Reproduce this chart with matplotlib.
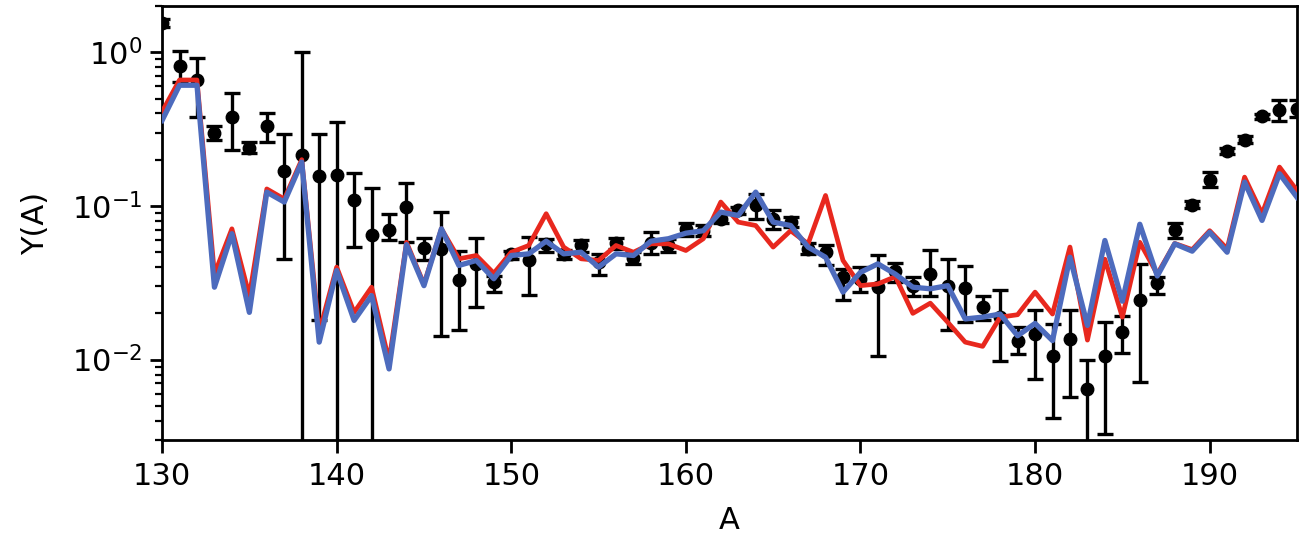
import numpy as np
import matplotlib
matplotlib.use("Agg")
import matplotlib.pyplot as plt

# Mass number
A = np.arange(130, 196)

# Measured yields with lower / upper bounds of the error bars
y_data = [1.55, 0.81, 0.66, 0.30, 0.38, 0.24, 0.33, 0.169, 0.213, 0.156,
          0.160, 0.110, 0.065, 0.070, 0.099, 0.0534, 0.0526, 0.033, 0.042, 0.0319,
          0.0488, 0.0446, 0.0567, 0.0488, 0.0553, 0.043, 0.0573, 0.046, 0.0575, 0.0553,
          0.071, 0.069, 0.0824, 0.0935, 0.1007, 0.0824, 0.0785, 0.0526, 0.050, 0.0344,
          0.0336, 0.0296, 0.0376, 0.0303, 0.0362, 0.0303, 0.0293, 0.0221, 0.0189, 0.0133,
          0.0146, 0.0105, 0.0136, 0.0064, 0.0105, 0.0151, 0.0245, 0.0314, 0.070, 0.102,
          0.148, 0.228, 0.27, 0.383, 0.419, 0.43]
y_lo = [1.45, 0.64, 0.38, 0.27, 0.23, 0.22, 0.26, 0.045, 1e-4, 0.018,
        1e-4, 0.054, 1e-4, 0.060, 0.058, 0.0446, 0.0143, 0.0155, 0.0219, 0.0275,
        0.0452, 0.0265, 0.050, 0.0455, 0.0505, 0.0353, 0.0526, 0.042, 0.0484, 0.050,
        0.064, 0.064, 0.077, 0.089, 0.082, 0.071, 0.073, 0.049, 0.041, 0.0243,
        0.0275, 0.0106, 0.0319, 0.026, 0.026, 0.0155, 0.0175, 0.018, 0.0098, 0.0108,
        0.0075, 0.0042, 0.0057, 0.0029, 0.0033, 0.011, 0.0072, 0.0268, 0.062, 0.097,
        0.133, 0.218, 0.256, 0.37, 0.357, 0.38]
y_hi = [1.65, 1.02, 0.92, 0.33, 0.54, 0.26, 0.40, 0.295, 1.0, 0.295,
        0.35, 0.164, 0.13, 0.089, 0.141, 0.062, 0.091, 0.051, 0.062, 0.035,
        0.051, 0.063, 0.061, 0.052, 0.060, 0.049, 0.062, 0.050, 0.0676, 0.061,
        0.078, 0.075, 0.088, 0.099, 0.12, 0.094, 0.085, 0.057, 0.0553, 0.039,
        0.040, 0.0483, 0.0426, 0.0347, 0.0513, 0.0453, 0.0404, 0.0258, 0.0284, 0.0162,
        0.0211, 0.0171, 0.0211, 0.0099, 0.0177, 0.0192, 0.042, 0.0343, 0.078, 0.107,
        0.166, 0.238, 0.285, 0.395, 0.487, 0.49]

# Model curves
y_red = [0.41, 0.66, 0.66, 0.036, 0.071, 0.026, 0.129, 0.111, 0.20, 0.0151,
         0.040, 0.0203, 0.0296, 0.0098, 0.058, 0.031, 0.071, 0.0453, 0.0476, 0.0365,
         0.050, 0.0553, 0.089, 0.054, 0.0453, 0.0442, 0.0553, 0.050, 0.0567, 0.0567,
         0.0513, 0.0612, 0.106, 0.0785, 0.0746, 0.054, 0.069, 0.0567, 0.117, 0.0442,
         0.0303, 0.0311, 0.0347, 0.020, 0.0233, 0.0175, 0.0130, 0.0122, 0.0189, 0.0196,
         0.0275, 0.0198, 0.054, 0.0134, 0.045, 0.0189, 0.058, 0.036, 0.057, 0.052,
         0.069, 0.0526, 0.154, 0.089, 0.179, 0.126]
y_blue = [0.36, 0.61, 0.61, 0.0296, 0.066, 0.0203, 0.123, 0.106, 0.193, 0.0130,
          0.038, 0.0180, 0.0261, 0.0087, 0.056, 0.0303, 0.071, 0.041, 0.0442, 0.0336,
          0.0476, 0.0488, 0.059, 0.0488, 0.050, 0.040, 0.0488, 0.0476, 0.059, 0.0612,
          0.0665, 0.069, 0.0912, 0.0867, 0.123, 0.0785, 0.0746, 0.054, 0.0464, 0.0275,
          0.037, 0.042, 0.036, 0.0296, 0.0289, 0.0303, 0.0184, 0.0189, 0.0198, 0.0143,
          0.0172, 0.0133, 0.0464, 0.0167, 0.0596, 0.024, 0.076, 0.035, 0.0567, 0.0508,
          0.0675, 0.050, 0.143, 0.0805, 0.162, 0.114]

x_ticks = [130, 140, 150, 160, 170, 180, 190]

fs = 22
fig = plt.figure(figsize=(13.09, 5.40), dpi=100)
ax = fig.add_axes([0.1238, 0.1852, 0.8670, 0.8037])

yd = np.array(y_data)
yerr = np.array([yd - np.array(y_lo), np.array(y_hi) - yd])
ax.errorbar(A, yd, yerr=yerr, fmt="o", color="black", ms=9,
            elinewidth=2.4, capsize=6, capthick=2.4, zorder=2)
ax.plot(A, y_red, color="#e8281e", lw=3.4, zorder=3)
ax.plot(A, y_blue, color="#4d6bbd", lw=3.8, zorder=4)

ax.set_yscale("log")
ax.set_xlim(130, 195)
ax.set_ylim(0.003, 2.0)
ax.set_xticks(x_ticks)
ax.set_xlabel("A", fontsize=fs, labelpad=11)
ax.set_ylabel("Y(A)", fontsize=fs, labelpad=16)
ax.tick_params(axis="x", which="major", labelsize=fs, length=9, width=2, pad=7)
ax.tick_params(axis="y", which="major", labelsize=fs, length=9, width=2, pad=5)
ax.tick_params(axis="y", which="minor", length=5, width=1.6)
for s in ax.spines.values():
    s.set_linewidth(2)

fig.savefig("out.png", dpi=100)
